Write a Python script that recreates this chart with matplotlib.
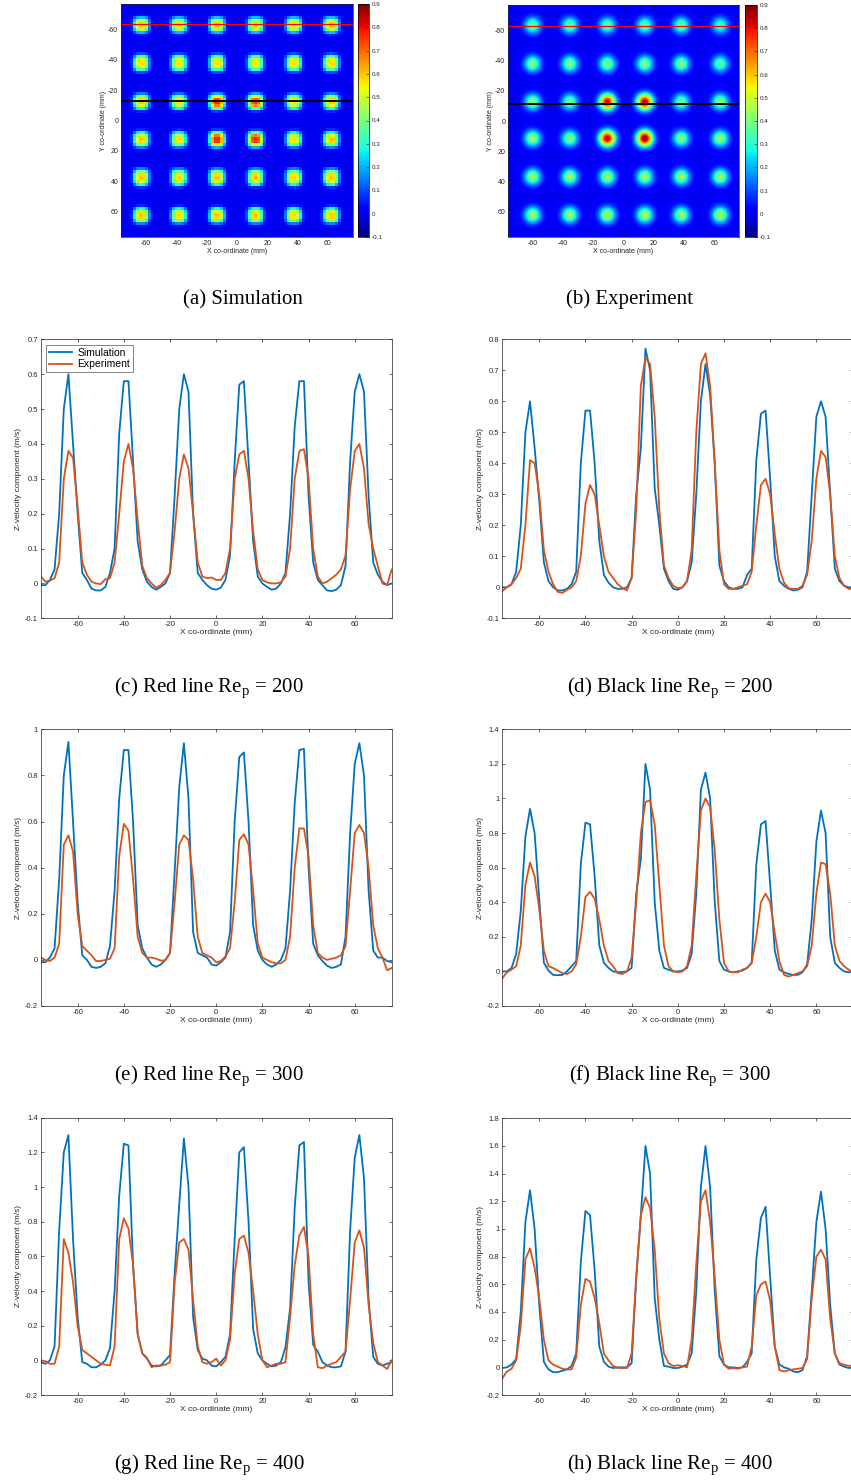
import numpy as np
import matplotlib
matplotlib.use("Agg")
import matplotlib.pyplot as plt

plt.rcParams['font.family'] = ['Liberation Sans', 'DejaVu Sans']
plt.rcParams['mathtext.default'] = 'regular'
plt.rcParams['axes.unicode_minus'] = False

# sample positions of the line profiles (mm)
x_mm = np.arange(-76, 77, 2)

# (c) red line, Re_p = 200
c_sim = [-0.005, -0.005, 0.01, 0.04, 0.2, 0.5, 0.6, 0.4, 0.2, 0.03,
         0.01, -0.015, -0.02, -0.02, -0.01, 0.03, 0.1, 0.43, 0.58, 0.58,
         0.35, 0.12, 0.04, 0.005, -0.01, -0.018, -0.01, 0.0, 0.03, 0.25,
         0.5, 0.6, 0.55, 0.2, 0.03, 0.01, -0.005, -0.015, -0.018, -0.012,
         0.01, 0.08, 0.35, 0.57, 0.58, 0.35, 0.12, 0.02, 0.0, -0.01,
         -0.018, -0.015, 0.0, 0.03, 0.2, 0.45, 0.58, 0.58, 0.25, 0.06,
         0.01, -0.005, -0.02, -0.022, -0.018, -0.005, 0.05, 0.35, 0.55, 0.6,
         0.55, 0.25, 0.06, 0.025, 0.005, -0.005, 0.0]
c_exp = [0.02, 0.005, 0.008, 0.015, 0.06, 0.3, 0.38, 0.36, 0.22, 0.06,
         0.025, 0.005, 0.0, -0.002, 0.012, 0.015, 0.06, 0.2, 0.35, 0.4,
         0.33, 0.18, 0.05, 0.015, 0.0, -0.012, -0.005, 0.01, 0.03, 0.15,
         0.3, 0.37, 0.33, 0.2, 0.06, 0.02, 0.015, 0.017, 0.01, 0.01,
         0.03, 0.1, 0.3, 0.37, 0.38, 0.3, 0.15, 0.04, 0.01, 0.003,
         0.0, 0.0, 0.003, 0.02, 0.1, 0.3, 0.38, 0.385, 0.3, 0.1,
         0.02, 0.0, 0.005, 0.015, 0.025, 0.04, 0.08, 0.27, 0.38, 0.4,
         0.33, 0.17, 0.1, 0.05, 0.0, -0.005, 0.04]

# (d) black line, Re_p = 200
d_sim = [0.0, 0.0, 0.01, 0.05, 0.2, 0.5, 0.6, 0.45, 0.28, 0.08,
         0.02, 0.0, -0.01, -0.01, -0.005, 0.01, 0.05, 0.4, 0.57, 0.57,
         0.4, 0.15, 0.04, 0.015, 0.0, -0.005, -0.005, 0.0, 0.03, 0.3,
         0.45, 0.77, 0.7, 0.32, 0.2, 0.06, 0.02, -0.005, -0.008, 0.0,
         0.02, 0.08, 0.3, 0.6, 0.72, 0.62, 0.4, 0.07, 0.02, 0.0,
         -0.005, -0.005, 0.0, 0.04, 0.06, 0.41, 0.56, 0.57, 0.35, 0.1,
         0.02, 0.005, -0.005, -0.01, -0.008, 0.0, 0.05, 0.3, 0.55, 0.6,
         0.55, 0.3, 0.06, 0.02, 0.005, 0.0, 0.0]
d_exp = [-0.012, 0.0, 0.01, 0.03, 0.06, 0.2, 0.41, 0.4, 0.3, 0.12,
         0.05, 0.01, -0.015, -0.018, -0.008, 0.0, 0.02, 0.1, 0.27, 0.33,
         0.3, 0.2, 0.1, 0.05, 0.03, 0.01, -0.002, -0.01, 0.03, 0.25,
         0.65, 0.74, 0.72, 0.55, 0.25, 0.07, 0.03, 0.005, -0.003, 0.0,
         0.02, 0.12, 0.5, 0.72, 0.755, 0.65, 0.4, 0.12, 0.01, -0.005,
         -0.005, 0.0, 0.005, 0.01, 0.05, 0.2, 0.33, 0.35, 0.3, 0.17,
         0.06, 0.015, -0.003, -0.005, -0.005, 0.005, 0.04, 0.15, 0.35, 0.44,
         0.42, 0.3, 0.1, 0.03, 0.005, -0.005, -0.005]

# (e) red line, Re_p = 300
e_sim = [-0.01, -0.01, 0.01, 0.05, 0.35, 0.8, 0.945, 0.6, 0.25, 0.02,
         0.0, -0.03, -0.035, -0.03, -0.015, 0.06, 0.3, 0.7, 0.91, 0.91,
         0.6, 0.15, 0.05, 0.01, -0.02, -0.03, -0.02, 0.0, 0.03, 0.38,
         0.75, 0.94, 0.7, 0.12, 0.03, 0.02, 0.01, -0.02, -0.025, -0.01,
         0.01, 0.12, 0.6, 0.88, 0.9, 0.6, 0.15, 0.04, 0.0, -0.02,
         -0.03, -0.02, 0.0, 0.05, 0.3, 0.68, 0.91, 0.915, 0.4, 0.07,
         0.02, -0.005, -0.025, -0.035, -0.03, -0.02, 0.1, 0.55, 0.85, 0.94,
         0.8, 0.3, 0.04, 0.01, 0.01, -0.005, -0.01]
e_exp = [0.01, 0.0, -0.005, 0.01, 0.07, 0.5, 0.54, 0.47, 0.2, 0.06,
         0.04, 0.02, -0.005, -0.005, 0.0, 0.005, 0.05, 0.45, 0.59, 0.56,
         0.35, 0.1, 0.03, 0.01, 0.01, 0.005, -0.003, -0.002, 0.03, 0.25,
         0.5, 0.54, 0.52, 0.35, 0.1, 0.03, 0.02, 0.01, -0.01, -0.005,
         0.015, 0.05, 0.25, 0.52, 0.545, 0.5, 0.3, 0.07, 0.01, 0.0,
         -0.01, -0.015, -0.015, 0.0, 0.1, 0.4, 0.57, 0.57, 0.45, 0.15,
         0.03, 0.01, 0.0, 0.005, 0.01, 0.02, 0.06, 0.3, 0.55, 0.585,
         0.55, 0.4, 0.15, 0.05, 0.01, -0.045, -0.035]

# (f) black line, Re_p = 300
f_sim = [0.0, 0.0, 0.02, 0.1, 0.35, 0.78, 0.94, 0.8, 0.42, 0.05,
         0.005, -0.02, -0.022, -0.02, 0.0, 0.03, 0.06, 0.62, 0.86, 0.85,
         0.55, 0.15, 0.05, 0.02, 0.0, -0.005, -0.003, 0.0, 0.02, 0.45,
         0.65, 1.2, 1.05, 0.4, 0.12, 0.02, 0.01, 0.0, 0.0, 0.005,
         0.02, 0.1, 0.45, 1.05, 1.15, 1.0, 0.4, 0.06, 0.01, 0.0,
         -0.005, 0.0, 0.005, 0.02, 0.05, 0.62, 0.85, 0.87, 0.5, 0.12,
         0.01, -0.005, -0.015, -0.02, -0.02, -0.005, 0.04, 0.3, 0.75, 0.93,
         0.8, 0.2, 0.05, 0.02, 0.0, -0.005, 0.0]
f_exp = [-0.04, -0.005, 0.01, 0.03, 0.15, 0.5, 0.63, 0.55, 0.36, 0.12,
         0.03, 0.02, 0.005, -0.01, -0.015, 0.0, 0.04, 0.2, 0.43, 0.46,
         0.42, 0.3, 0.15, 0.06, 0.03, -0.01, -0.015, 0.0, 0.08, 0.4,
         0.8, 0.98, 0.99, 0.85, 0.5, 0.15, 0.03, 0.0, -0.005, 0.0,
         0.03, 0.15, 0.55, 0.93, 1.0, 0.95, 0.7, 0.3, 0.05, 0.0,
         -0.005, -0.005, 0.01, 0.02, 0.05, 0.2, 0.4, 0.45, 0.4, 0.22,
         0.06, -0.02, -0.03, -0.02, -0.01, 0.0, 0.03, 0.15, 0.45, 0.63,
         0.62, 0.45, 0.15, 0.06, 0.03, 0.01, -0.005]

# (g) red line, Re_p = 400
g_sim = [-0.01, -0.02, 0.0, 0.08, 0.75, 1.2, 1.3, 0.7, 0.25, -0.01,
         -0.02, -0.04, -0.04, -0.025, 0.0, 0.07, 0.4, 0.95, 1.25, 1.24,
         0.55, 0.15, 0.04, 0.01, -0.03, -0.035, -0.03, 0.0, 0.03, 0.5,
         0.9, 1.28, 1.0, 0.25, 0.06, 0.01, 0.0, -0.03, -0.035, -0.01,
         0.02, 0.15, 0.7, 1.2, 1.23, 0.8, 0.18, 0.04, 0.0, -0.02,
         -0.035, -0.03, -0.01, 0.075, 0.3, 0.88, 1.24, 1.26, 0.45, 0.09,
         0.05, -0.01, -0.03, -0.04, -0.04, -0.035, 0.05, 0.75, 1.17, 1.3,
         1.05, 0.35, 0.02, -0.02, -0.03, -0.02, -0.01]
g_exp = [0.0, -0.005, -0.02, -0.02, 0.08, 0.7, 0.62, 0.45, 0.2, 0.06,
         0.04, 0.02, 0.0, -0.02, -0.025, -0.03, 0.08, 0.7, 0.82, 0.76,
         0.55, 0.15, 0.04, 0.015, -0.04, -0.03, -0.03, -0.025, -0.01, 0.45,
         0.68, 0.7, 0.64, 0.35, 0.08, -0.01, -0.02, -0.01, 0.01, -0.03,
         0.0, 0.12, 0.5, 0.7, 0.72, 0.62, 0.4, 0.15, 0.0, -0.04,
         -0.03, -0.02, -0.02, -0.01, 0.25, 0.55, 0.72, 0.77, 0.6, 0.15,
         -0.04, -0.045, -0.03, -0.02, -0.01, 0.02, 0.05, 0.35, 0.68, 0.75,
         0.65, 0.32, 0.1, -0.01, -0.03, -0.05, 0.0]

# (h) black line, Re_p = 400
h_sim = [-0.005, 0.0, 0.02, 0.06, 0.4, 1.05, 1.28, 1.0, 0.45, 0.04,
         -0.015, -0.035, -0.035, -0.025, -0.015, 0.01, 0.1, 0.76, 1.13, 1.1,
         0.7, 0.15, 0.04, 0.005, -0.005, 0.0, 0.0, 0.0, 0.03, 0.65,
         1.1, 1.6, 1.4, 0.5, 0.2, 0.01, 0.005, -0.005, -0.005, 0.005,
         0.02, 0.1, 0.55, 1.3, 1.6, 1.3, 0.55, 0.08, 0.02, 0.0,
         0.0, -0.005, 0.0, 0.04, 0.1, 0.78, 1.08, 1.16, 0.65, 0.15,
         0.02, 0.0, -0.01, -0.03, -0.035, -0.02, 0.08, 0.55, 1.05, 1.27,
         1.0, 0.45, 0.1, 0.02, 0.005, -0.005, 0.0]
h_exp = [-0.08, -0.03, -0.01, 0.05, 0.3, 0.78, 0.86, 0.72, 0.5, 0.2,
         0.05, 0.02, 0.005, -0.01, -0.015, -0.015, 0.07, 0.45, 0.64, 0.62,
         0.5, 0.32, 0.1, 0.05, 0.01, -0.005, -0.005, -0.005, 0.1, 0.65,
         1.1, 1.23, 1.15, 0.85, 0.35, 0.1, 0.03, 0.01, 0.015, 0.01,
         0.0, 0.2, 0.75, 1.2, 1.28, 1.05, 0.65, 0.2, 0.02, -0.01,
         -0.005, -0.01, 0.0, 0.005, 0.15, 0.52, 0.6, 0.62, 0.48, 0.15,
         -0.02, -0.03, -0.02, -0.015, -0.01, -0.005, 0.06, 0.5, 0.8, 0.85,
         0.78, 0.35, 0.1, 0.03, 0.02, 0.01, 0.015]

# jet centres (mm) and peak velocity of each jet in the contour maps
sim_jet_x = [-64, -39, -13.5, 11.5, 37, 62]
sim_jet_y = [-63.5, -38.5, -13, 12, 37, 62]
sim_peak = [[0.60, 0.58, 0.60, 0.60, 0.58, 0.60],
            [0.58, 0.57, 0.57, 0.57, 0.57, 0.58],
            [0.60, 0.57, 0.77, 0.75, 0.57, 0.60],
            [0.60, 0.57, 0.78, 0.78, 0.57, 0.60],
            [0.60, 0.58, 0.60, 0.60, 0.58, 0.60],
            [0.60, 0.58, 0.60, 0.60, 0.58, 0.60]]
exp_jet_x = [-60.6, -35.8, -10.8, 14.2, 38.5, 64.5]
exp_jet_y = [-63.5, -38, -12.7, 11.5, 37, 62.3]
exp_peak = [[0.40, 0.40, 0.38, 0.39, 0.40, 0.35],
            [0.42, 0.42, 0.42, 0.42, 0.42, 0.38],
            [0.43, 0.40, 0.85, 0.88, 0.40, 0.44],
            [0.45, 0.42, 0.88, 0.92, 0.42, 0.45],
            [0.45, 0.45, 0.45, 0.45, 0.45, 0.45],
            [0.45, 0.45, 0.47, 0.47, 0.45, 0.47]]
sim_lines = {'red': -63.6, 'black': -13.1}
exp_lines = {'red': -62.6, 'black': -11.5}

TXT = '#262626'
W, H = 851, 1481

fig = plt.figure(figsize=(W / 100, H / 100), dpi=100)


def rect(left, top, right, bottom):
    return [left / W, 1 - bottom / H, (right - left) / W, (bottom - top) / H]


def style(ax, size):
    ax.tick_params(direction='in', top=True, right=True, labelsize=size, length=2.5,
                   width=0.5, colors=TXT, pad=2)
    for s in ax.spines.values():
        s.set_linewidth(0.5)
        s.set_color(TXT)


def jet_field(step, cx, cy, peaks, width, square):
    g = np.arange(-76.5, 76.5 + step / 2, step)
    X, Y = np.meshgrid(g, g)
    Z = np.zeros_like(X)
    for i, yc in enumerate(cy):
        for j, xc in enumerate(cx):
            if square:
                k = np.exp(-(np.abs(X - xc) / width) ** 3 - (np.abs(Y - yc) / width) ** 3)
            else:
                k = np.exp(-((X - xc) ** 2 + (Y - yc) ** 2) / (2 * width ** 2))
            Z += peaks[i][j] * k
    return Z


def contour_map(ax_rect, cb_rect, Z, lines, interp):
    ax = fig.add_axes(ax_rect)
    im = ax.imshow(Z, cmap='jet', vmin=-0.1, vmax=0.9, origin='upper', aspect='auto',
                   extent=[-76.5, 76.5, 76.5, -76.5], interpolation=interp)
    ax.axhline(lines['red'], color='red', lw=0.9)
    ax.axhline(lines['black'], color='black', lw=1.4)
    ax.set_xticks([-60, -40, -20, 0, 20, 40, 60])
    ax.set_yticks([-60, -40, -20, 0, 20, 40, 60])
    style(ax, 5)
    ax.set_xlabel('X co-ordinate (mm)', fontsize=5, color=TXT, labelpad=1)
    ax.set_ylabel('Y co-ordinate (mm)', fontsize=5, color=TXT, labelpad=1)
    cax = fig.add_axes(cb_rect)
    cb = fig.colorbar(im, cax=cax)
    ticks = np.round(np.arange(-0.1, 0.91, 0.1), 1)
    cb.set_ticks(ticks)
    cb.set_ticklabels(['%g' % t for t in ticks])
    cax.tick_params(direction='in', labelsize=4.5, length=2, width=0.4, colors=TXT, pad=2)
    cb.outline.set_linewidth(0.5)


contour_map(rect(121, 4, 353, 237), rect(358, 4, 369, 237),
            jet_field(2.0, sim_jet_x, sim_jet_y, sim_peak, 5.0, True), sim_lines, 'nearest')
contour_map(rect(508, 5, 739, 237), rect(745, 5, 757, 237),
            jet_field(1.0, exp_jet_x, exp_jet_y, exp_peak, 3.8, False), exp_lines, 'bilinear')


def profile(r, sim, exp, ylim, yticks, legend=False):
    ax = fig.add_axes(r)
    ax.plot(x_mm, sim, color='#0072BD', lw=1.3, label='Simulation')
    ax.plot(x_mm, exp, color='#D95319', lw=1.3, label='Experiment')
    ax.set_xlim(-76, 76)
    ax.set_ylim(ylim)
    ax.set_xticks([-60, -40, -20, 0, 20, 40, 60])
    ax.set_yticks(yticks)
    ax.set_yticklabels(['%g' % t for t in yticks])
    style(ax, 5.5)
    ax.set_xlabel('X co-ordinate (mm)', fontsize=6, color=TXT, labelpad=1)
    ax.set_ylabel('Z-velocity component (m/s)', fontsize=6, color=TXT, labelpad=2)
    if legend:
        leg = ax.legend(loc='upper left', fontsize=7.5, fancybox=False, edgecolor=TXT,
                        borderaxespad=0.5, handlelength=2.2, borderpad=0.3,
                        labelspacing=0.15, handletextpad=0.5)
        leg.get_frame().set_linewidth(0.5)
    return ax


t07 = np.round(np.arange(-0.1, 0.71, 0.1), 1)
t08 = np.round(np.arange(-0.1, 0.81, 0.1), 1)
t10 = np.round(np.arange(-0.2, 1.01, 0.2), 1)
t14 = np.round(np.arange(-0.2, 1.41, 0.2), 1)
t18 = np.round(np.arange(-0.2, 1.81, 0.2), 1)

profile(rect(40.7, 339.3, 391.7, 618.3), c_sim, c_exp, (-0.1, 0.7), t07, legend=True)
profile(rect(502.3, 339.3, 853.3, 618.3), d_sim, d_exp, (-0.1, 0.8), t08)
profile(rect(40.7, 729.3, 391.7, 1006), e_sim, e_exp, (-0.2, 1.0), t10)
profile(rect(502.3, 729.3, 853.3, 1006), f_sim, f_exp, (-0.2, 1.4), t14)
profile(rect(40.7, 1117.7, 391.7, 1395), g_sim, g_exp, (-0.2, 1.4), t14)
profile(rect(502.3, 1118.3, 853.3, 1395), h_sim, h_exp, (-0.2, 1.8), t18)

captions = [(243, 304, '(a) Simulation'), (629, 304, '(b) Experiment'),
            (209, 692, '(c) Red line Re$_{p}$ = 200'), (670, 692, '(d) Black line Re$_{p}$ = 200'),
            (209, 1080, '(e) Red line Re$_{p}$ = 300'), (670, 1080, '(f) Black line Re$_{p}$ = 300'),
            (209, 1469, '(g) Red line Re$_{p}$ = 400'), (670, 1469, '(h) Black line Re$_{p}$ = 400')]
for cx, cy, txt in captions:
    fig.text(cx / W, 1 - cy / H, txt, ha='center', va='baseline', fontsize=15,
             family='Liberation Serif', color='black')

fig.savefig('out.png', dpi=100)
